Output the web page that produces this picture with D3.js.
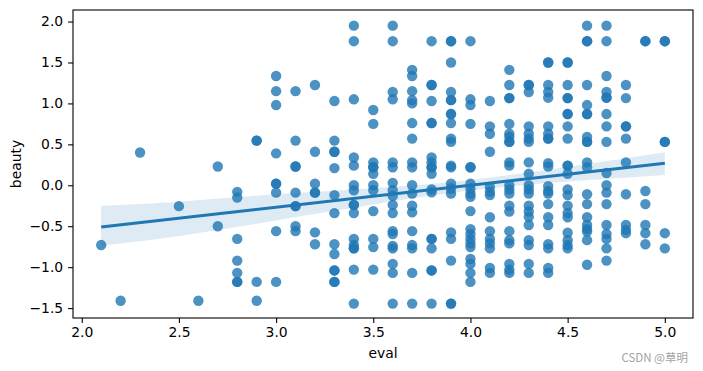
<!DOCTYPE html>
<html>
<head>
<meta charset="utf-8">
<script src="https://cdn.jsdelivr.net/npm/d3@7"></script>
<style>
body { margin: 0; background: #fff; }
text { font-family: "DejaVu Sans", sans-serif; }
</style>
</head>
<body>
<svg id="chart" width="703" height="371"></svg>
<script>
// beauty scores, grouped by eval score
var beautyByEval = [
    [2.1, [-0.73]],
    [2.2, [-1.41]],
    [2.3, [0.40]],
    [2.5, [-0.255]],
    [2.6, [-1.41]],
    [2.7, [0.23, -0.50]],
    [2.8, [-0.08, -0.15, -0.655, -0.92, -1.07, -1.18, -1.18]],
    [2.9, [0.546, 0.546, -1.18, -1.41]],
    [3.0, [1.335, 1.15, 0.98, 0.39, 0.02, 0.02, -0.09, -0.56, -1.18]],
    [3.1, [1.15, 0.546, 0.23, 0.23, -0.09, -0.255, -0.255, -0.50, -0.56]],
    [3.2, [1.225, 0.41, 0.02, -0.09, -0.09, -0.575, -0.72]],
    [3.3, [1.03, 0.546, 0.41, 0.41, 0.21, -0.12, -0.34, -0.72, -0.84, -1.04, -1.04, -1.18, -1.18]],
    [3.4, [1.95, 1.76, 1.05, 0.34, 0.24, 0.0, -0.06, -0.24, -0.24, -0.34, -0.655, -0.73, -0.77, -0.77, -1.03, -1.445]],
    [3.5, [0.92, 0.75, 0.28, 0.22, 0.22, 0.14, 0.0, -0.06, -0.315, -0.655, -0.755, -1.03]],
    [3.6, [1.95, 1.76, 1.14, 1.05, 0.28, 0.22, 0.03, -0.06, -0.13, -0.24, -0.34, -0.56, -0.595, -0.74, -0.77, -0.96, -1.07, -1.445]],
    [3.7, [1.41, 1.335, 1.15, 1.04, 1.0, 0.76, 0.57, 0.28, 0.22, 0.0, -0.10, -0.25, -0.33, -0.56, -0.73, -0.77, -1.07, -1.445]],
    [3.8, [1.76, 1.225, 1.225, 1.03, 0.76, 0.76, 0.34, 0.28, 0.22, 0.22, 0.14, -0.05, -0.085, -0.655, -0.655, -0.77, -1.04, -1.04, -1.445]],
    [3.9, [1.76, 1.76, 1.50, 1.14, 1.04, 1.04, 0.87, 0.87, 0.76, 0.57, 0.53, 0.24, 0.22, 0.02, -0.04, -0.10, -0.575, -0.655, -0.92, -1.445, -1.445]],
    [4.0, [1.76, 1.05, 0.98, 0.75, 0.22, 0.22, 0.02, -0.04, -0.10, -0.14, -0.315, -0.535, -0.595, -0.655, -0.71, -0.755, -0.90, -0.96, -1.07, -1.18]],
    [4.1, [1.03, 0.72, 0.63, 0.41, -0.02, -0.08, -0.12, -0.39, -0.56, -0.655, -0.71, -0.77, -1.01, -1.07]],
    [4.2, [1.41, 1.225, 1.065, 1.065, 0.75, 0.63, 0.59, 0.53, 0.53, 0.28, 0.24, 0.0, -0.05, -0.10, -0.25, -0.32, -0.56, -0.67, -0.71, -0.96, -1.03, -1.07]],
    [4.3, [1.225, 1.225, 1.14, 0.72, 0.63, 0.57, 0.53, 0.28, 0.14, 0.0, -0.05, -0.10, -0.25, -0.32, -0.385, -0.485, -0.67, -0.73, -0.96, -1.07]],
    [4.4, [1.50, 1.50, 1.225, 1.14, 1.07, 0.72, 0.63, 0.57, 0.57, 0.27, 0.23, -0.01, -0.07, -0.10, -0.23, -0.39, -0.485, -0.72, -0.77, -1.01, -1.07]],
    [4.5, [1.50, 1.50, 1.225, 1.065, 1.065, 0.87, 0.87, 0.72, 0.57, 0.24, 0.24, 0.14, -0.05, -0.12, -0.25, -0.34, -0.39, -0.58, -0.67, -0.73, -0.77]],
    [4.6, [1.95, 1.76, 1.76, 1.225, 0.98, 0.87, 0.87, 0.59, 0.53, 0.53, 0.28, 0.22, -0.11, -0.23, -0.39, -0.485, -0.535, -0.565, -0.67, -0.97]],
    [4.7, [1.95, 1.76, 1.335, 1.14, 1.07, 1.07, 0.87, 0.72, 0.53, 0.15, 0.0, -0.09, -0.23, -0.485, -0.595, -0.655, -0.77, -0.92]],
    [4.8, [1.225, 1.065, 0.72, 0.72, 0.57, 0.28, -0.11, -0.485, -0.545, -0.585]],
    [4.9, [1.76, 1.76, -0.07, -0.23, -0.485, -0.585, -0.72]],
    [5.0, [1.76, 1.76, 0.53, 0.53, -0.585, -0.77]]
];

// regression line ends and confidence band
var fitX = [2.1, 5.0];
var fitY = [-0.51, 0.27];
var bandX = [2.1, 2.5, 3.0, 3.5, 4.0, 4.5, 5.0];
var bandLow = [-0.74, -0.62, -0.43, -0.235, -0.065, 0.045, 0.125];
var bandHigh = [-0.25, -0.20, -0.11, -0.035, 0.065, 0.225, 0.405];

// ticks
var xTicks = [2.0, 2.5, 3.0, 3.5, 4.0, 4.5, 5.0];
var yTicks = [-1.5, -1.0, -0.5, 0.0, 0.5, 1.0, 1.5, 2.0];

var color = '#1f77b4';
var plotL = 73, plotR = 693, plotT = 10, plotB = 318;

var svg = d3.select('#chart');

var x = d3.scaleLinear().domain([1.955, 5.145]).range([plotL, plotR]);
var y = d3.scaleLinear().domain([-1.621, 2.141]).range([plotB, plotT]);

var points = [];
beautyByEval.forEach(function(col){
    col[1].forEach(function(b){ points.push({ev: col[0], beauty: b}); });
});

// scatter
svg.append('g').selectAll('circle')
    .data(points)
    .enter().append('circle')
        .attr('cx', function(d){ return x(d.ev); })
        .attr('cy', function(d){ return y(d.beauty); })
        .attr('r', 5.2)
        .attr('fill', color)
        .attr('fill-opacity', 0.8);

// confidence band
var band = bandX.map(function(v, i){ return {x: v, lo: bandLow[i], hi: bandHigh[i]}; });
svg.append('path')
    .datum(band)
    .attr('fill', color)
    .attr('fill-opacity', 0.15)
    .attr('d', d3.area()
        .curve(d3.curveNatural)
        .x(function(d){ return x(d.x); })
        .y0(function(d){ return y(d.lo); })
        .y1(function(d){ return y(d.hi); }));

// regression line
svg.append('path')
    .datum(fitX.map(function(v, i){ return [v, fitY[i]]; }))
    .attr('fill', 'none')
    .attr('stroke', color)
    .attr('stroke-width', 3.1)
    .attr('d', d3.line()
        .x(function(d){ return x(d[0]); })
        .y(function(d){ return y(d[1]); }));

// axes
var fmt = function(d){ return d3.format('.1f')(d).replace('-', '\u2212'); };

var xAxis = svg.append('g')
    .attr('transform', 'translate(0,' + plotB + ')')
    .call(d3.axisBottom(x).tickValues(xTicks).tickFormat(fmt).tickSize(4.9).tickPadding(4.4));

var yAxis = svg.append('g')
    .attr('transform', 'translate(' + plotL + ',0)')
    .call(d3.axisLeft(y).tickValues(yTicks).tickFormat(fmt).tickSize(4.9).tickPadding(4.9));

[xAxis, yAxis].forEach(function(a){
    a.select('.domain').remove();
    a.selectAll('line').attr('stroke', '#000').attr('stroke-width', 1.1);
    a.selectAll('text')
        .attr('fill', '#000')
        .style('font-size', '13.9px')
        .style('font-family', '"DejaVu Sans", sans-serif');
});

// frame
svg.append('rect')
    .attr('x', plotL).attr('y', plotT)
    .attr('width', plotR - plotL).attr('height', plotB - plotT)
    .attr('fill', 'none')
    .attr('stroke', '#000')
    .attr('stroke-width', 1.1);

// labels
svg.append('text')
    .attr('x', (plotL + plotR) / 2).attr('y', 358)
    .attr('text-anchor', 'middle')
    .style('font-size', '13.9px')
    .text('eval');

svg.append('text')
    .attr('transform', 'translate(21,' + ((plotT + plotB) / 2) + ') rotate(-90)')
    .attr('text-anchor', 'middle')
    .style('font-size', '13.9px')
    .text('beauty');

// watermark
svg.append('text')
    .attr('x', 688).attr('y', 361.5)
    .attr('text-anchor', 'end')
    .attr('fill', '#a3a3a3')
    .style('font-size', '11.5px')
    .style('font-family', '"Noto Sans CJK SC", sans-serif')
    .text('CSDN @草明');
</script>
</body>
</html>
